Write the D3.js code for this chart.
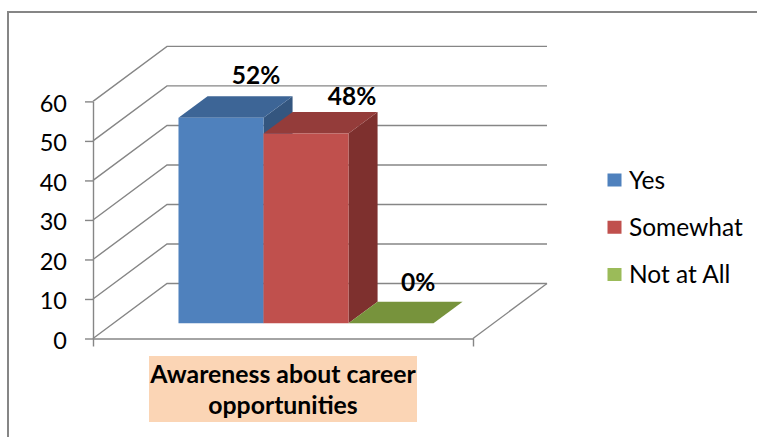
<!DOCTYPE html>
<html><head><meta charset="utf-8">
<script src="https://cdn.jsdelivr.net/npm/d3@7"></script>
<style>
html,body{margin:0;padding:0;background:#fff;}
svg{display:block;font-family:Lato,"Open Sans",sans-serif;}
</style></head><body>
<svg id="chart" width="757" height="437"></svg>
<script>
// ---- data ----
const category = "Awareness about career opportunities";
const categoryLines = ["Awareness about career", "opportunities"];
const seriesNames = ["Yes", "Somewhat", "Not at All"];
const seriesValues = [52, 48, 0];
const valueLabels = ["52%", "48%", "0%"];
const yTicks = [0, 10, 20, 30, 40, 50, 60];

// ---- styles ----
const frontColors = ["#4F81BD", "#C0504D", "#9BBB59"];
const topColors   = ["#3D6596", "#943C3A", "#77933C"];
const sideColors  = ["#34567F", "#7E302E", "#5F7530"];
const legendColors = ["#4F81BD", "#C0504D", "#9BBB59"];
const gridColor = "#868686";

const svg = d3.select("#chart");

// outer chart frame
svg.append("rect")
  .attr("x", 8).attr("y", 12).attr("width", 780).attr("height", 460)
  .attr("fill", "none").attr("stroke", gridColor).attr("stroke-width", 2);

// front plane of the plot and the oblique depth offset
const plot = { x0: 93, x1: 473, yBottom: 338.5, yTop: 101.4 };
const depth = { dx: 74, dy: 55 };
const zFront = 0.277, zBack = 0.67;   // depth slice taken by the columns

const y = d3.scaleLinear().domain([0, 60]).range([plot.yBottom, plot.yTop]);
const xCat = d3.scaleBand().domain([category]).range([plot.x0, plot.x1]);
const xSeries = d3.scaleBand().domain(seriesNames)
  .range([xCat(category), xCat(category) + xCat.bandwidth()])
  .paddingInner(0).paddingOuter(0.735).align(0.52);

const proj = (x, v, z) => [x + z * depth.dx, y(v) - z * depth.dy];
const line = d3.line();

// side wall + back wall gridlines
const walls = svg.append("g").attr("fill", "none")
  .attr("stroke", gridColor).attr("stroke-width", 1.4);
yTicks.forEach(v => {
  walls.append("path").attr("d", line([
    proj(plot.x0, v, 0), proj(plot.x0, v, 1), proj(plot.x1, v, 1)
  ]));
});
// right edge of the floor
walls.append("path").attr("d", line([proj(plot.x1, 0, 0), proj(plot.x1, 0, 1)]));

// value axis on the front-left edge
const yAxis = svg.append("g")
  .attr("transform", `translate(${plot.x0},0)`)
  .call(d3.axisLeft(y).tickValues(yTicks).tickSize(8).tickSizeOuter(0).tickPadding(18));
yAxis.selectAll("path,line").attr("stroke", gridColor).attr("stroke-width", 1.4);
yAxis.selectAll("text").attr("font-size", 23.5).attr("fill", "#000")
  .attr("font-family", "Lato").attr("dy", "0.42em");

// category axis (front edge of the floor)
const xAxis = svg.append("g")
  .attr("transform", `translate(0,${plot.yBottom})`)
  .call(d3.axisBottom(xCat).tickValues([]).tickSizeOuter(8));
xAxis.selectAll("path").attr("stroke", gridColor).attr("stroke-width", 1.4);

// columns
const bw = xSeries.bandwidth();
seriesNames.forEach((name, i) => {
  const v = seriesValues[i];
  const xl = xSeries(name), xr = xl + bw;
  const g = svg.append("g");
  g.append("path").attr("fill", sideColors[i]).attr("d", line([
    proj(xr, 0, zFront), proj(xr, 0, zBack), proj(xr, v, zBack), proj(xr, v, zFront)
  ]) + "Z");
  g.append("path").attr("fill", topColors[i]).attr("d", line([
    proj(xl, v, zFront), proj(xr, v, zFront), proj(xr, v, zBack), proj(xl, v, zBack)
  ]) + "Z");
  if (v > 0) {
    g.append("path").attr("fill", frontColors[i]).attr("d", line([
      proj(xl, 0, zFront), proj(xr, 0, zFront), proj(xr, v, zFront), proj(xl, v, zFront)
    ]) + "Z");
  }
});

// value labels, set just above the back edge of each column top
const labelNudge = [[6, -12], [17, -7], [-2, -11]];
seriesNames.forEach((name, i) => {
  const p = proj(xSeries(name) + bw / 2, seriesValues[i], zBack);
  svg.append("text")
    .attr("x", p[0] + labelNudge[i][0]).attr("y", p[1] + labelNudge[i][1])
    .attr("text-anchor", "middle").attr("font-size", 24.5).attr("font-weight", 700)
    .attr("fill", "#000").text(valueLabels[i]);
});

// category label with shaded box
const cx = xCat(category) + xCat.bandwidth() / 2;
svg.append("rect").attr("x", cx - 134).attr("y", 356).attr("width", 268).attr("height", 66)
  .attr("fill", "#FBD5B5");
categoryLines.forEach((t, k) => {
  svg.append("text").attr("x", cx).attr("y", 383 + k * 31)
    .attr("text-anchor", "middle").attr("font-size", 24.8).attr("font-weight", 700)
    .attr("fill", "#000").text(t);
});

// legend
const ly = d3.scalePoint().domain(seriesNames).range([180, 274.5]);
const legend = svg.append("g");
seriesNames.forEach((name, i) => {
  legend.append("rect").attr("x", 607.5).attr("y", ly(name) - 6.5)
    .attr("width", 14).attr("height", 13).attr("fill", legendColors[i]);
  legend.append("text").attr("x", 629).attr("y", ly(name)).attr("dy", "0.36em")
    .attr("font-size", 24.5).attr("fill", "#000").text(name);
});
</script>
</body></html>
